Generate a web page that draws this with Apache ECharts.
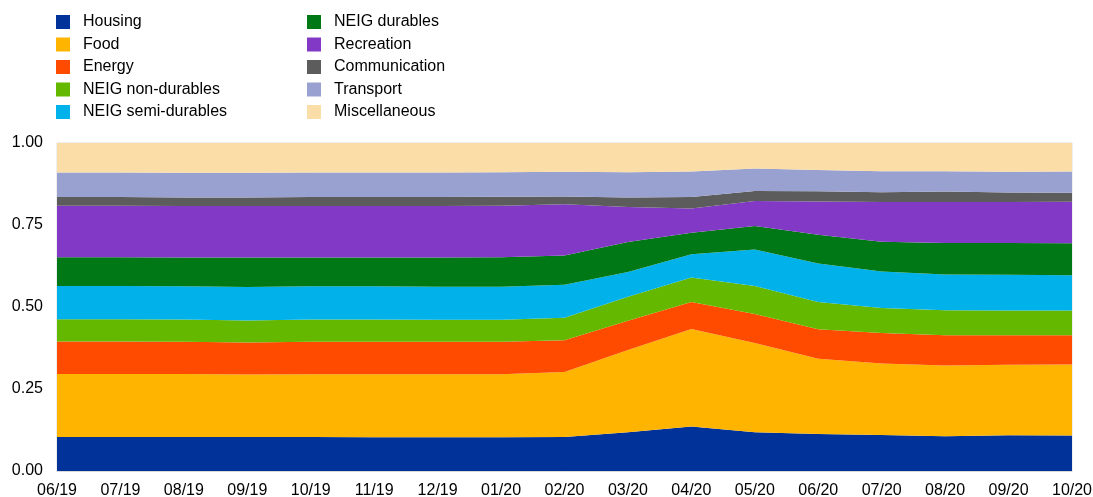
<!DOCTYPE html>
<html>
<head>
<meta charset="utf-8">
<script src="https://cdn.jsdelivr.net/npm/echarts@6/dist/echarts.min.js"></script>
<style>
  html, body { margin: 0; padding: 0; background: #fff; }
  #chart { width: 1093px; height: 497px; }
</style>
</head>
<body>
<div id="chart"></div>
<script>
// months on the x axis
var months = ["06/19", "07/19", "08/19", "09/19", "10/19", "11/19", "12/19", "01/20", "02/20",
  "03/20", "04/20", "05/20", "06/20", "07/20", "08/20", "09/20", "10/20"];

// weights (shares of the basket)
var housing = [0.104, 0.104, 0.104, 0.104, 0.104, 0.103, 0.103, 0.103, 0.104, 0.118, 0.136, 0.118, 0.113, 0.110, 0.106, 0.109, 0.108];
var food = [0.192, 0.192, 0.192, 0.190, 0.191, 0.192, 0.192, 0.192, 0.198, 0.251, 0.297, 0.272, 0.229, 0.218, 0.216, 0.215, 0.217];
var energy = [0.099, 0.099, 0.098, 0.098, 0.099, 0.099, 0.099, 0.099, 0.097, 0.089, 0.082, 0.089, 0.090, 0.093, 0.092, 0.090, 0.089];
var neigNonDurables = [0.068, 0.068, 0.068, 0.067, 0.068, 0.068, 0.067, 0.067, 0.068, 0.073, 0.075, 0.085, 0.083, 0.076, 0.076, 0.075, 0.075];
var neigSemiDurables = [0.101, 0.101, 0.101, 0.102, 0.101, 0.101, 0.101, 0.101, 0.101, 0.076, 0.071, 0.111, 0.118, 0.111, 0.109, 0.109, 0.108];
var neigDurables = [0.088, 0.088, 0.088, 0.090, 0.088, 0.088, 0.089, 0.090, 0.089, 0.091, 0.065, 0.072, 0.087, 0.091, 0.096, 0.097, 0.097];
var recreation = [0.157, 0.157, 0.157, 0.157, 0.157, 0.157, 0.157, 0.157, 0.156, 0.107, 0.074, 0.076, 0.102, 0.121, 0.125, 0.125, 0.127];
var communication = [0.026, 0.026, 0.026, 0.026, 0.027, 0.027, 0.027, 0.027, 0.024, 0.029, 0.035, 0.031, 0.031, 0.030, 0.032, 0.029, 0.027];
var transport = [0.075, 0.075, 0.075, 0.075, 0.075, 0.075, 0.075, 0.075, 0.075, 0.077, 0.078, 0.068, 0.065, 0.064, 0.062, 0.063, 0.065];
var miscellaneous = [0.090, 0.090, 0.091, 0.091, 0.090, 0.090, 0.090, 0.089, 0.088, 0.089, 0.087, 0.078, 0.082, 0.086, 0.086, 0.088, 0.087];

var yTicks = [0, 0.25, 0.5, 0.75, 1];

var names = ["Housing", "Food", "Energy", "NEIG non-durables", "NEIG semi-durables",
  "NEIG durables", "Recreation", "Communication", "Transport", "Miscellaneous"];
var values = [housing, food, energy, neigNonDurables, neigSemiDurables,
  neigDurables, recreation, communication, transport, miscellaneous];
var colors = ["#003299", "#FFB400", "#FF4B00", "#65B800", "#00B1EA",
  "#007816", "#8139C6", "#5C5C5C", "#98A1D0", "#FBDDA8"];

var series = [];
for (var i = 0; i < names.length; i++) {
  series.push({
    name: names[i],
    type: "line",
    stack: "total",
    data: values[i],
    symbol: "none",
    lineStyle: { width: 0 },
    areaStyle: { color: colors[i], opacity: 1 },
    itemStyle: { color: colors[i] }
  });
}

var legendText = { fontFamily: "Liberation Sans, Arial", fontSize: 16, color: "#000", padding: [0, 0, 0, 8] };

var myChart = echarts.init(document.getElementById("chart"));
myChart.setOption({
  animation: false,
  textStyle: { fontFamily: "Liberation Sans, Arial" },
  legend: [
    {
      data: names.slice(0, 5),
      orient: "vertical",
      left: 51, top: 9,
      itemWidth: 14, itemHeight: 14, itemGap: 6.5,
      icon: "rect",
      textStyle: legendText
    },
    {
      data: names.slice(5),
      orient: "vertical",
      left: 302, top: 9,
      itemWidth: 14, itemHeight: 14, itemGap: 6.5,
      icon: "rect",
      textStyle: legendText
    }
  ],
  grid: {
    left: 57, right: 21, top: 143, bottom: 26,
    outerBoundsMode: "none",
    show: true, borderColor: "#dddddd", borderWidth: 1
  },
  xAxis: {
    type: "category",
    data: months,
    boundaryGap: false,
    axisLine: { lineStyle: { color: "#d9d9d9" } },
    axisTick: { show: false },
    axisLabel: { color: "#000", fontSize: 16, margin: 12, interval: 0 }
  },
  yAxis: {
    type: "value",
    min: yTicks[0],
    max: yTicks[yTicks.length - 1],
    interval: 0.25,
    axisLine: { show: false },
    axisTick: { show: false },
    splitLine: { show: false },
    axisLabel: {
      color: "#000", fontSize: 16, margin: 14, padding: [3, 0, 0, 0],
      formatter: function (v) { return v.toFixed(2); }
    }
  },
  series: series
});
</script>
</body>
</html>
